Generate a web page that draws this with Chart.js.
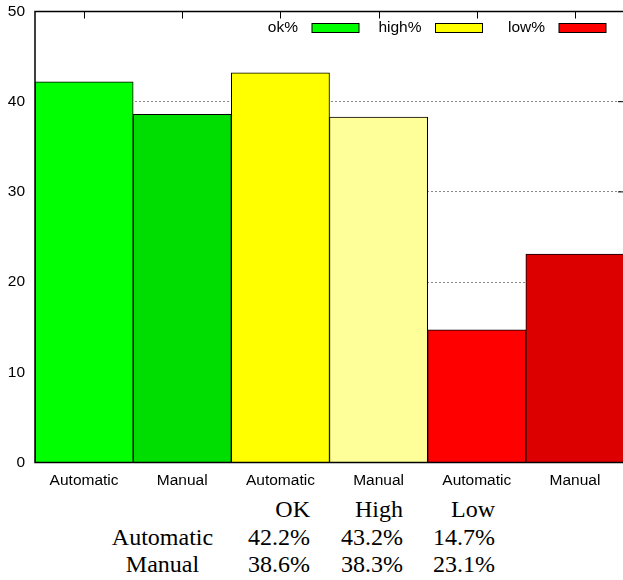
<!DOCTYPE html>
<html>
<head>
<meta charset="utf-8">
<script src="https://cdn.jsdelivr.net/npm/chart.js@4.4.1/dist/chart.umd.min.js"></script>
<style>
html, body { margin:0; padding:0; background:#fff; overflow:hidden; }
#wrap { position:relative; width:626px; height:496px; }
#summary { position:absolute; left:100px; top:496px; border-collapse:collapse; font-family:'Liberation Serif','Times New Roman',serif; font-size:24px; line-height:27.5px; color:#000; }
#summary td { padding:0; text-align:right; white-space:nowrap; }
#summary td.name { text-align:center; }
</style>
</head>
<body>
<div id="wrap"><canvas id="c-bars"></canvas></div>
<table id="summary"></table>
<script>
// values, as percentages
const groups = ['OK', 'High', 'Low'];
const keyLabels = ['ok%', 'high%', 'low%'];
const methods = ['Automatic', 'Manual'];
const automaticPct = [42.2, 43.2, 14.7];
const manualPct = [38.6, 38.3, 23.1];
const autoColors = ['#00ff00', '#ffff00', '#ff0000'];
const manualColors = ['#00dd00', '#ffff99', '#dd0000'];
const yMin = 0, yMax = 50, yStep = 10;

document.addEventListener('DOMContentLoaded', () => {
    const cBars = document.getElementById('c-bars');
    const table = document.getElementById('summary');

    const labels = [];
    groups.forEach(() => methods.forEach(m => labels.push(m)));

    const datasets = groups.map((g, i) => {
        const data = labels.map(() => null);
        data[i * 2] = automaticPct[i];
        data[i * 2 + 1] = manualPct[i];
        return {
            label: keyLabels[i], data,
            backgroundColor: labels.map((_, j) => j % 2 ? manualColors[i] : autoColors[i]),
            borderColor: '#000', borderWidth: 1,
            grouped: false, categoryPercentage: 1, barPercentage: 1
        };
    });

    const tickFont = { family: "'Liberation Sans', Arial, sans-serif", size: 15.5 };

    // gnuplot style border + small ticks
    const frame = {
        id: 'frame',
        beforeDatasetsDraw(chart) {
            const { ctx, chartArea: a, scales: { x, y } } = chart;
            ctx.save();
            ctx.strokeStyle = '#000'; ctx.lineWidth = 1;
            ctx.beginPath();
            y.ticks.forEach(t => {
                const py = y.getPixelForValue(t.value);
                ctx.moveTo(a.left, py); ctx.lineTo(a.left + 6, py);
                ctx.moveTo(a.right, py); ctx.lineTo(a.right - 6, py);
            });
            x.ticks.forEach((t, i) => {
                const px = x.getPixelForTick(i);
                ctx.moveTo(px, a.bottom); ctx.lineTo(px, a.bottom - 7);
            });
            ctx.stroke();
            ctx.restore();
        },
        afterDatasetsDraw(chart) {
            const { ctx, chartArea: a, scales: { x } } = chart;
            ctx.save();
            ctx.strokeStyle = '#000'; ctx.lineWidth = 1.5;
            ctx.strokeRect(a.left, a.top, a.right - a.left, a.bottom - a.top);
            ctx.lineWidth = 1;
            ctx.beginPath();
            x.ticks.forEach((t, i) => {
                const px = Math.round(x.getPixelForTick(i)) + 0.5;
                ctx.moveTo(px, a.top); ctx.lineTo(px, a.top + 7);
            });
            ctx.stroke();
            ctx.restore();
        },
        afterDraw(chart) {
            // key: text right-justified, sample box to its right
            const { ctx, chartArea: a } = chart;
            ctx.save();
            ctx.font = "15.5px 'Liberation Sans', Arial, sans-serif";
            ctx.textAlign = 'right'; ctx.textBaseline = 'middle';
            const ky = a.top + 16.5;
            keyLabels.forEach((lab, i) => {
                const tx = a.right - 326 + i * 123.5;
                ctx.fillStyle = '#000';
                ctx.fillText(lab, tx, ky);
                ctx.fillStyle = autoColors[i];
                ctx.fillRect(tx + 14, ky - 4.5, 47, 9);
                ctx.strokeStyle = '#000'; ctx.lineWidth = 1;
                ctx.strokeRect(tx + 14, ky - 4.5, 47, 9);
            });
            ctx.restore();
        }
    };

    new Chart(cBars, {
        type: 'bar',
        data: { labels, datasets },
        options: {
            responsive: true, maintainAspectRatio: false, animation: false,
            layout: { padding: { left: 0, top: 11.5, right: 2, bottom: 0 } },
            scales: {
                x: {
                    grid: { display: false, drawTicks: false },
                    border: { display: false },
                    ticks: { color: '#000', font: tickFont, padding: 9, maxRotation: 0, autoSkip: false },
                    afterFit: s => { s.height = 33.5; s.paddingLeft = 0; s.paddingRight = 0; }
                },
                y: {
                    min: yMin, max: yMax,
                    grid: {
                        drawTicks: false, lineWidth: 1,
                        color: c => (c.tick && c.tick.value > yMin && c.tick.value < yMax) ? '#888' : 'rgba(0,0,0,0)'
                    },
                    border: { display: false, dash: [2, 2] },
                    ticks: { stepSize: yStep, color: '#000', font: tickFont, padding: 10 },
                    afterFit: s => { s.width = 35; s.paddingTop = 0; s.paddingBottom = 0; }
                }
            },
            plugins: { legend: { display: false }, tooltip: { enabled: false } }
        },
        plugins: [frame]
    });

    // summary table below the plot
    let html = '<tr><td class="name" style="width:125px"></td>' +
        groups.map((g, i) => `<td style="width:${[85, 93, 92][i]}px">${g}</td>`).join('') + '</tr>';
    [automaticPct, manualPct].forEach((vals, r) => {
        html += `<tr><td class="name">${methods[r]}</td>` +
            vals.map(v => `<td>${v.toFixed(1)}%</td>`).join('') + '</tr>';
    });
    table.innerHTML = html;
});
</script>
</body>
</html>
